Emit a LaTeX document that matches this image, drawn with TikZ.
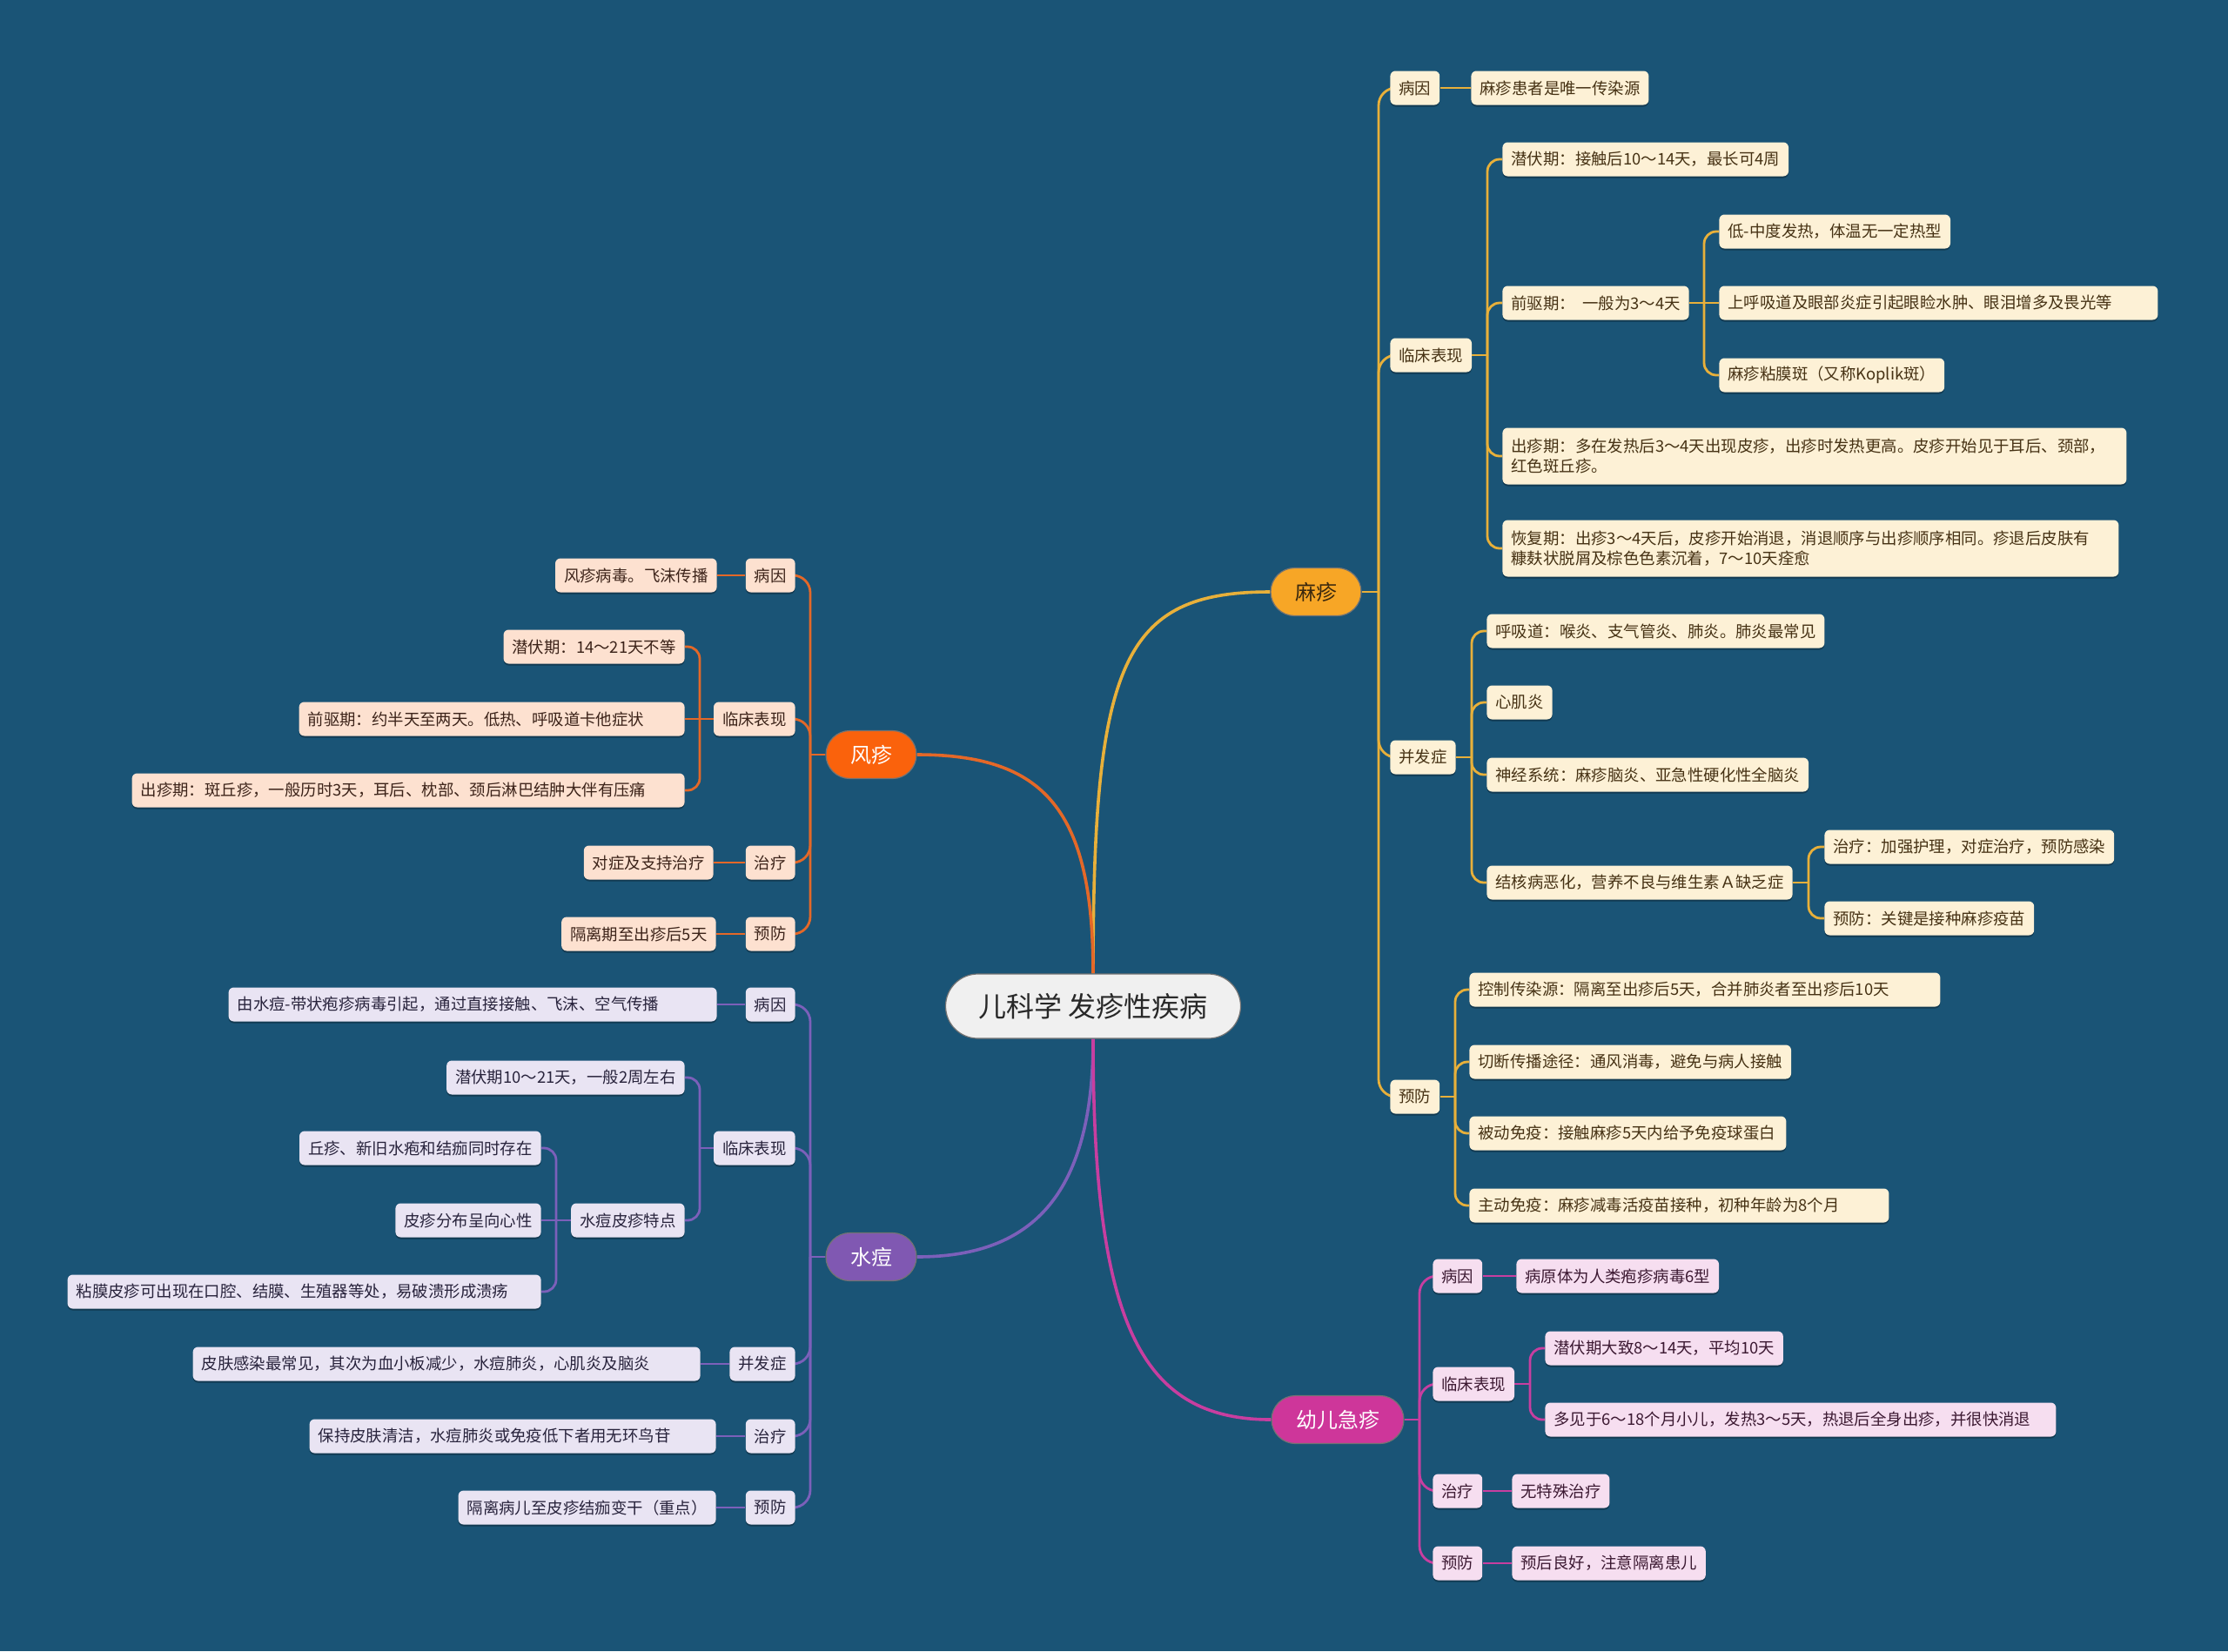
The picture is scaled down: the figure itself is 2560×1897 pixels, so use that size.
\documentclass[tikz,border=0pt]{standalone}
\usepackage{fontspec}
\setmainfont{Noto Sans CJK SC}
\usetikzlibrary{shadows}
\definecolor{bgblue}{RGB}{26,84,118}
\definecolor{maMain}{RGB}{247,166,38}
\definecolor{maLine}{RGB}{232,176,58}
\definecolor{maLeaf}{RGB}{253,241,214}
\definecolor{maText}{RGB}{70,50,20}
\definecolor{maDark}{RGB}{58,40,14}
\definecolor{fzMain}{RGB}{250,98,12}
\definecolor{fzLine}{RGB}{228,104,40}
\definecolor{fzLeaf}{RGB}{253,225,208}
\definecolor{fzText}{RGB}{60,35,25}
\definecolor{sdMain}{RGB}{128,88,178}
\definecolor{sdLine}{RGB}{124,96,186}
\definecolor{sdLeaf}{RGB}{233,228,243}
\definecolor{sdText}{RGB}{40,35,60}
\definecolor{yjMain}{RGB}{206,54,154}
\definecolor{yjLine}{RGB}{200,62,160}
\definecolor{yjLeaf}{RGB}{246,222,240}
\definecolor{yjText}{RGB}{60,25,50}
\definecolor{cFill}{RGB}{240,240,240}
\definecolor{cText}{RGB}{40,40,40}
\pgfdeclarelayer{bglayer}
\pgfdeclarelayer{edges}
\pgfsetlayers{bglayer,edges,main}
\begin{document}
\begin{tikzpicture}[x=0.5pt,y=-0.5pt,
  leaf/.style={rounded corners=3pt, inner xsep=5pt, inner ysep=0pt, minimum height=19.5pt, align=left,
    font=\fontsize{9.2pt}{11.5pt}\selectfont,
    drop shadow={shadow xshift=0pt,shadow yshift=-1pt,opacity=0.3,fill=black}},
  maL/.style={leaf, fill=maLeaf, text=maText},
  fzL/.style={leaf, fill=fzLeaf, text=fzText},
  sdL/.style={leaf, fill=sdLeaf, text=sdText},
  yjL/.style={leaf, fill=yjLeaf, text=yjText},
  twoline/.style={minimum height=32.5pt},
  mainnode/.style={rounded corners=13.75pt, minimum height=27.5pt, inner xsep=14pt, inner ysep=0pt,
    font=\fontsize{12pt}{14pt}\selectfont, draw=black!55, line width=0.6pt},
  centernode/.style={rounded corners=18.5pt, minimum width=169.5pt, minimum height=37pt, inner sep=0pt,
    fill=cFill, text=cText, font=\fontsize{16pt}{18pt}\selectfont, draw=black!55, line width=0.6pt},
  conn/.style={line width=1.4pt, rounded corners=7pt},
  conn1/.style={line width=1.4pt, rounded corners=10pt},
  mconn/.style={line width=1.8pt}
]
\useasboundingbox (0,0) rectangle (2560,1897);
\begin{pgfonlayer}{bglayer}
\fill[bgblue] (0,0) rectangle (2560,1897);
\end{pgfonlayer}

% central
\node[centernode] (c) at (1256,1156) {儿科学 发疹性疾病};

% main branches
\node[mainnode, fill=maMain, text=maDark] (ma) at (1512,680) {麻疹};
\node[mainnode, fill=fzMain, text=white] (fz) at (1001,867) {风疹};
\node[mainnode, fill=sdMain, text=white] (sd) at (1001,1444) {水痘};
\node[mainnode, fill=yjMain, text=white] (yj) at (1537,1631) {幼儿急疹};

% ===== 麻疹 =====
\node[maL, anchor=west] (ma1) at (1597,101) {病因};
\node[maL, anchor=west] (ma1a) at (1690,101) {麻疹患者是唯一传染源};
\node[maL, anchor=west] (ma2) at (1597,408) {临床表现};
\node[maL, anchor=west] (ma2a) at (1726,183) {潜伏期：接触后10～14天，最长可4周};
\node[maL, anchor=west] (ma2b) at (1726,348) {前驱期：\ \ 一般为3～4天};
\node[maL, anchor=west] (ma2b1) at (1975,266) {低-中度发热，体温无一定热型};
\node[maL, anchor=west, text width=242pt] (ma2b2) at (1975,348) {上呼吸道及眼部炎症引起眼睑水肿、眼泪增多及畏光等};
\node[maL, anchor=west] (ma2b3) at (1975,431) {麻疹粘膜斑（又称Koplik斑）};
\node[maL, twoline, anchor=west, text width=348.5pt] (ma2c) at (1726,524) {出疹期：多在发热后3～4天出现皮疹，出疹时发热更高。皮疹开始见于耳后、颈部，\\红色斑丘疹。};
\node[maL, twoline, anchor=west, text width=344pt] (ma2d) at (1726,630) {恢复期：出疹3～4天后，皮疹开始消退，消退顺序与出疹顺序相同。疹退后皮肤有\\糠麸状脱屑及棕色色素沉着，7～10天痊愈};
\node[maL, anchor=west] (ma3) at (1597,870) {并发症};
\node[maL, anchor=west] (ma3a) at (1708,725) {呼吸道：喉炎、支气管炎、肺炎。肺炎最常见};
\node[maL, anchor=west] (ma3b) at (1708,807) {心肌炎};
\node[maL, anchor=west] (ma3c) at (1708,890) {神经系统：麻疹脑炎、亚急性硬化性全脑炎};
\node[maL, anchor=west] (ma3d) at (1708,1014) {结核病恶化，营养不良与维生素Ａ缺乏症};
\node[maL, anchor=west] (ma3d1) at (2096,973) {治疗：加强护理，对症治疗，预防感染};
\node[maL, anchor=west] (ma3d2) at (2096,1055) {预防：关键是接种麻疹疫苗};
\node[maL, anchor=west] (ma4) at (1597,1260) {预防};
\node[maL, anchor=west, text width=260.5pt] (ma4a) at (1688,1137) {控制传染源：隔离至出疹后5天，合并肺炎者至出疹后10天};
\node[maL, anchor=west] (ma4b) at (1688,1220) {切断传播途径：通风消毒，避免与病人接触};
\node[maL, anchor=west, text width=172pt] (ma4c) at (1688,1302) {被动免疫：接触麻疹5天内给予免疫球蛋白};
\node[maL, anchor=west, text width=231pt] (ma4d) at (1688,1385) {主动免疫：麻疹减毒活疫苗接种，初种年龄为8个月};

% ===== 幼儿急疹 =====
\node[yjL, anchor=west] (yj1) at (1646,1466) {病因};
\node[yjL, anchor=west] (yj1a) at (1742,1466) {病原体为人类疱疹病毒6型};
\node[yjL, anchor=west] (yj2) at (1646,1590) {临床表现};
\node[yjL, anchor=west] (yj2a) at (1775,1549) {潜伏期大致8～14天，平均10天};
\node[yjL, anchor=west, text width=283.5pt] (yj2b) at (1775,1631) {多见于6～18个月小儿，发热3～5天，热退后全身出疹，并很快消退};
\node[yjL, anchor=west] (yj3) at (1646,1713) {治疗};
\node[yjL, anchor=west] (yj3a) at (1737,1713) {无特殊治疗};
\node[yjL, anchor=west] (yj4) at (1646,1796) {预防};
\node[yjL, anchor=west] (yj4a) at (1737,1796) {预后良好，注意隔离患儿};

% ===== 风疹 =====
\node[fzL, anchor=east] (fz1) at (914,661) {病因};
\node[fzL, anchor=east] (fz1a) at (824,661) {风疹病毒。飞沫传播};
\node[fzL, anchor=east] (fz2) at (914,826) {临床表现};
\node[fzL, anchor=east] (fz2a) at (787,743) {潜伏期：14～21天不等};
\node[fzL, anchor=east, text width=211.5pt] (fz2b) at (787,826) {前驱期：约半天至两天。低热、呼吸道卡他症状};
\node[fzL, anchor=east, text width=307.5pt] (fz2c) at (787,908) {出疹期：斑丘疹，一般历时3天，耳后、枕部、颈后淋巴结肿大伴有压痛};
\node[fzL, anchor=east] (fz3) at (914,991) {治疗};
\node[fzL, anchor=east] (fz3a) at (820,991) {对症及支持治疗};
\node[fzL, anchor=east] (fz4) at (914,1073) {预防};
\node[fzL, anchor=east] (fz4a) at (823,1073) {隔离期至出疹后5天};

% ===== 水痘 =====
\node[sdL, anchor=east] (sd1) at (914,1154) {病因};
\node[sdL, anchor=east, text width=270.5pt] (sd1a) at (824,1154) {由水痘-带状疱疹病毒引起，通过直接接触、飞沫、空气传播};
\node[sdL, anchor=east] (sd2) at (914,1319) {临床表现};
\node[sdL, anchor=east] (sd2a) at (787,1238) {潜伏期10～21天，一般2周左右};
\node[sdL, anchor=east] (sd2b) at (787,1402) {水痘皮疹特点};
\node[sdL, anchor=east] (sd2b1) at (622,1319) {丘疹、新旧水疱和结痂同时存在};
\node[sdL, anchor=east] (sd2b2) at (622,1402) {皮疹分布呈向心性};
\node[sdL, anchor=east, text width=262pt] (sd2b3) at (622,1484) {粘膜皮疹可出现在口腔、结膜、生殖器等处，易破溃形成溃疡};
\node[sdL, anchor=east] (sd3) at (914,1567) {并发症};
\node[sdL, anchor=east, text width=281.5pt] (sd3a) at (805,1567) {皮肤感染最常见，其次为血小板减少，水痘肺炎，心肌炎及脑炎};
\node[sdL, anchor=east] (sd4) at (914,1650) {治疗};
\node[sdL, anchor=east, text width=223.5pt] (sd4a) at (823,1650) {保持皮肤清洁，水痘肺炎或免疫低下者用无环鸟苷};
\node[sdL, anchor=east] (sd5) at (914,1732) {预防};
\node[sdL, anchor=east] (sd5a) at (823,1732) {隔离病儿至皮疹结痂变干（重点）};

% junctions
\coordinate (jma) at (1584,680);
\coordinate (jma2) at (1709,408);
\coordinate (jma2b) at (1958,348);
\coordinate (jma3) at (1691,870);
\coordinate (jma3d) at (2078,1014);
\coordinate (jma4) at (1672,1260);
\coordinate (jyj) at (1631,1631);
\coordinate (jyj2) at (1758,1590);
\coordinate (jfz) at (931,867);
\coordinate (jfz2) at (804,826);
\coordinate (jsd) at (931,1444);
\coordinate (jsd2) at (804,1319);
\coordinate (jsd2b) at (639,1402);

\begin{pgfonlayer}{edges}
% main curves
\draw[mconn, maLine] (c.north) .. controls (1256,760) and (1290,680) .. (ma.west);
\draw[mconn, fzLine] (c.north) .. controls (1256,930) and (1200,867) .. (fz.east);
\draw[mconn, sdLine] (c.south) .. controls (1256,1380) and (1180,1444) .. (sd.east);
\draw[mconn, yjLine] (c.south) .. controls (1256,1520) and (1310,1631) .. (yj.west);

% 麻疹
\draw[conn1, maLine] (ma.east) -- (jma);
\draw[conn1, maLine] (jma) |- (ma1.west);
\draw[conn1, maLine] (jma) |- (ma2.west);
\draw[conn1, maLine] (jma) |- (ma3.west);
\draw[conn1, maLine] (jma) |- (ma4.west);
\draw[conn, maLine] (ma1.east) -- (ma1a.west);
\draw[conn, maLine] (ma2.east) -- (jma2);
\draw[conn, maLine] (jma2) |- (ma2a.west);
\draw[conn, maLine] (jma2) |- (ma2b.west);
\draw[conn, maLine] (jma2) |- (ma2c.west);
\draw[conn, maLine] (jma2) |- (ma2d.west);
\draw[conn, maLine] (ma2b.east) -- (jma2b);
\draw[conn, maLine] (jma2b) |- (ma2b1.west);
\draw[conn, maLine] (jma2b) -- (ma2b2.west);
\draw[conn, maLine] (jma2b) |- (ma2b3.west);
\draw[conn, maLine] (ma3.east) -- (jma3);
\draw[conn, maLine] (jma3) |- (ma3a.west);
\draw[conn, maLine] (jma3) |- (ma3b.west);
\draw[conn, maLine] (jma3) |- (ma3c.west);
\draw[conn, maLine] (jma3) |- (ma3d.west);
\draw[conn, maLine] (ma3d.east) -- (jma3d);
\draw[conn, maLine] (jma3d) |- (ma3d1.west);
\draw[conn, maLine] (jma3d) |- (ma3d2.west);
\draw[conn, maLine] (ma4.east) -- (jma4);
\draw[conn, maLine] (jma4) |- (ma4a.west);
\draw[conn, maLine] (jma4) |- (ma4b.west);
\draw[conn, maLine] (jma4) |- (ma4c.west);
\draw[conn, maLine] (jma4) |- (ma4d.west);

% 幼儿急疹
\draw[conn1, yjLine] (yj.east) -- (jyj);
\draw[conn1, yjLine] (jyj) |- (yj1.west);
\draw[conn1, yjLine] (jyj) |- (yj2.west);
\draw[conn1, yjLine] (jyj) |- (yj3.west);
\draw[conn1, yjLine] (jyj) |- (yj4.west);
\draw[conn, yjLine] (yj1.east) -- (yj1a.west);
\draw[conn, yjLine] (yj2.east) -- (jyj2);
\draw[conn, yjLine] (jyj2) |- (yj2a.west);
\draw[conn, yjLine] (jyj2) |- (yj2b.west);
\draw[conn, yjLine] (yj3.east) -- (yj3a.west);
\draw[conn, yjLine] (yj4.east) -- (yj4a.west);

% 风疹
\draw[conn1, fzLine] (fz.west) -- (jfz);
\draw[conn1, fzLine] (jfz) |- (fz1.east);
\draw[conn1, fzLine] (jfz) |- (fz2.east);
\draw[conn1, fzLine] (jfz) |- (fz3.east);
\draw[conn1, fzLine] (jfz) |- (fz4.east);
\draw[conn, fzLine] (fz1.west) -- (fz1a.east);
\draw[conn, fzLine] (fz2.west) -- (jfz2);
\draw[conn, fzLine] (jfz2) |- (fz2a.east);
\draw[conn, fzLine] (jfz2) -- (fz2b.east);
\draw[conn, fzLine] (jfz2) |- (fz2c.east);
\draw[conn, fzLine] (fz3.west) -- (fz3a.east);
\draw[conn, fzLine] (fz4.west) -- (fz4a.east);

% 水痘
\draw[conn1, sdLine] (sd.west) -- (jsd);
\draw[conn1, sdLine] (jsd) |- (sd1.east);
\draw[conn1, sdLine] (jsd) |- (sd2.east);
\draw[conn1, sdLine] (jsd) |- (sd3.east);
\draw[conn1, sdLine] (jsd) |- (sd4.east);
\draw[conn1, sdLine] (jsd) |- (sd5.east);
\draw[conn, sdLine] (sd1.west) -- (sd1a.east);
\draw[conn, sdLine] (sd2.west) -- (jsd2);
\draw[conn, sdLine] (jsd2) |- (sd2a.east);
\draw[conn, sdLine] (jsd2) |- (sd2b.east);
\draw[conn, sdLine] (sd2b.west) -- (jsd2b);
\draw[conn, sdLine] (jsd2b) |- (sd2b1.east);
\draw[conn, sdLine] (jsd2b) -- (sd2b2.east);
\draw[conn, sdLine] (jsd2b) |- (sd2b3.east);
\draw[conn, sdLine] (sd3.west) -- (sd3a.east);
\draw[conn, sdLine] (sd4.west) -- (sd4a.east);
\draw[conn, sdLine] (sd5.west) -- (sd5a.east);
\end{pgfonlayer}
\end{tikzpicture}
\end{document}
